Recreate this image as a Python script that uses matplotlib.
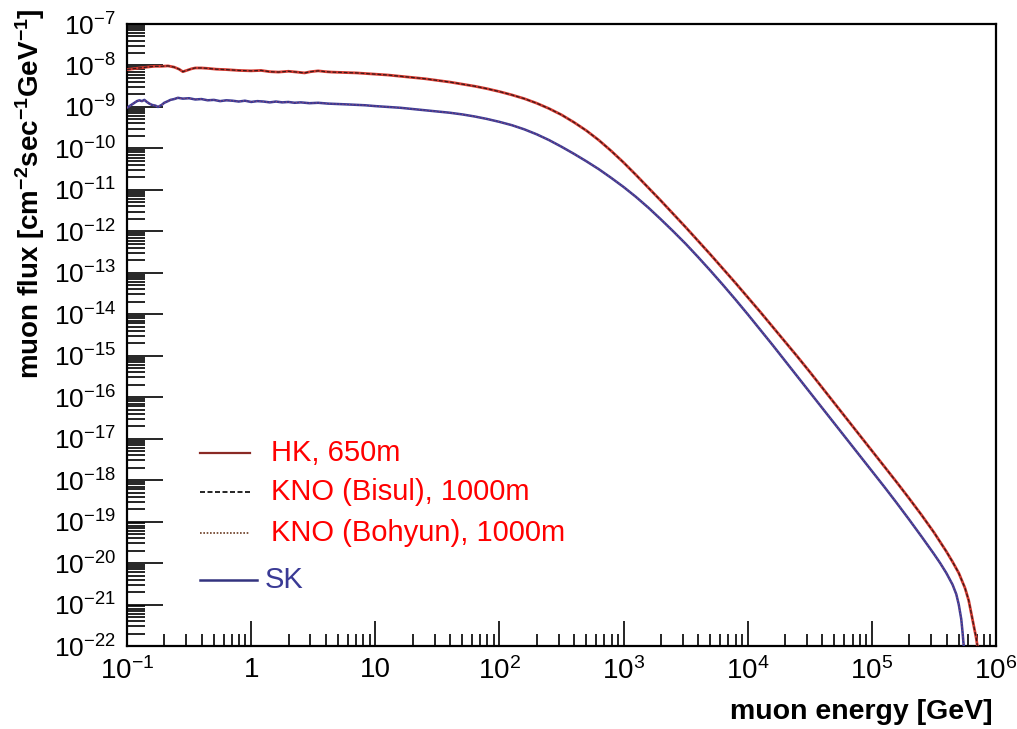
import numpy as np
import matplotlib
matplotlib.use("Agg")
import matplotlib.pyplot as plt
from matplotlib.ticker import FixedLocator, FixedFormatter, LogLocator, NullFormatter

plt.rcParams['font.family'] = ['Liberation Sans', 'DejaVu Sans']
plt.rcParams['mathtext.fontset'] = 'custom'
plt.rcParams['mathtext.rm'] = 'Liberation Sans'
plt.rcParams['mathtext.bf'] = 'Liberation Sans:bold'
plt.rcParams['mathtext.it'] = 'Liberation Sans:italic'

# ---- data (log10 of energy in GeV, log10 of flux) ----
hk_log_e = [-1.0, -0.95, -0.9, -0.84, -0.78, -0.72, -0.67, -0.62, -0.58, -0.55, -0.52,
            -0.48, -0.45, -0.4, -0.35, -0.28, -0.2, -0.1, 0.0, 0.08, 0.15, 0.22, 0.3,
            0.37, 0.43, 0.48, 0.54, 0.6, 0.65, 0.75, 0.85, 0.95,
            1.0, 1.1, 1.2, 1.3, 1.4, 1.5, 1.6, 1.7, 1.8, 1.9, 2.0, 2.1, 2.2, 2.3, 2.4,
            2.5, 2.6, 2.7, 2.8, 2.9, 3.0, 3.1, 3.2, 3.3, 3.4, 3.5, 3.6, 3.7, 3.8, 3.9,
            4.0, 4.1, 4.2, 4.3, 4.4, 4.5, 4.6, 4.7, 4.8, 4.9, 5.0, 5.1, 5.2, 5.3, 5.4,
            5.5, 5.6, 5.65, 5.7, 5.75, 5.78, 5.8, 5.82, 5.84, 5.85]
hk_log_flux = [-8.10, -8.08, -8.06, -8.04, -8.02, -8.02, -8.01, -8.04, -8.09, -8.15, -8.12,
               -8.08, -8.06, -8.06, -8.07, -8.09, -8.10, -8.12, -8.13, -8.12, -8.15, -8.16,
               -8.14, -8.16, -8.18, -8.15, -8.13, -8.15, -8.16, -8.17, -8.18, -8.20,
               -8.21, -8.23, -8.26, -8.29, -8.32, -8.36, -8.40, -8.45, -8.50, -8.56, -8.63,
               -8.71, -8.80, -8.91, -9.04, -9.19, -9.37, -9.57, -9.80, -10.06, -10.34,
               -10.64, -10.95, -11.26, -11.58, -11.90, -12.23, -12.56, -12.90, -13.24,
               -13.59, -13.94, -14.30, -14.66, -15.02, -15.39, -15.77, -16.15, -16.53,
               -16.91, -17.29, -17.67, -18.05, -18.44, -18.84, -19.26, -19.72, -19.97,
               -20.24, -20.6, -20.9, -21.2, -21.5, -21.8, -22.0]

sk_log_e = [-1.0, -0.97, -0.94, -0.92, -0.9, -0.88, -0.86, -0.84, -0.82, -0.8, -0.77,
            -0.75, -0.72, -0.7, -0.67, -0.65, -0.62, -0.59, -0.55, -0.5, -0.45, -0.4,
            -0.35, -0.3, -0.25, -0.2, -0.15, -0.1, -0.05, 0.0, 0.05, 0.1, 0.15, 0.2,
            0.25, 0.3, 0.35, 0.4, 0.47, 0.54, 0.62, 0.7, 0.78, 0.85, 0.92,
            1.0, 1.1, 1.2, 1.3, 1.4, 1.5, 1.6, 1.7, 1.8, 1.9, 2.0, 2.1, 2.2, 2.3, 2.4,
            2.5, 2.6, 2.7, 2.8, 2.9, 3.0, 3.1, 3.2, 3.3, 3.4, 3.5, 3.6, 3.7, 3.8, 3.9,
            4.0, 4.1, 4.2, 4.3, 4.4, 4.5, 4.6, 4.7, 4.8, 4.9, 5.0, 5.1, 5.2, 5.3, 5.4,
            5.5, 5.55, 5.6, 5.65, 5.68, 5.70, 5.72, 5.73, 5.74]
sk_log_flux = [-9.02, -8.96, -8.90, -8.86, -8.84, -8.86, -8.83, -8.88, -8.92, -8.95, -8.97,
               -9.00, -8.95, -8.90, -8.86, -8.83, -8.81, -8.78, -8.80, -8.79, -8.82, -8.81,
               -8.84, -8.83, -8.86, -8.84, -8.85, -8.87, -8.85, -8.88, -8.86, -8.87, -8.89,
               -8.87, -8.89, -8.88, -8.90, -8.89, -8.91, -8.90, -8.92, -8.93, -8.94, -8.95,
               -8.96,
               -8.98, -9.00, -9.02, -9.05, -9.08, -9.11, -9.14, -9.18, -9.23, -9.29, -9.36,
               -9.44, -9.54, -9.66, -9.80, -9.96, -10.13, -10.31, -10.50, -10.71, -10.93,
               -11.17, -11.43, -11.71, -12.00, -12.30, -12.62, -12.95, -13.29, -13.64,
               -14.00, -14.37, -14.74, -15.12, -15.50, -15.88, -16.26, -16.64, -17.02,
               -17.40, -17.78, -18.16, -18.55, -18.95, -19.36, -19.78, -20.00, -20.24,
               -20.52, -20.75, -21.00, -21.35, -21.65, -22.0]

# KNO curves coincide with the visible curves in the picture
kno_bisul_log_e = hk_log_e
kno_bisul_log_flux = hk_log_flux
kno_bohyun_log_e = sk_log_e
kno_bohyun_log_flux = sk_log_flux

labels = ["HK, 650m", "KNO (Bisul), 1000m", "KNO (Bohyun), 1000m", "SK"]

x_ticks = [1e-1, 1, 10, 1e2, 1e3, 1e4, 1e5, 1e6]
x_tick_labels = [r"10$^{-1}$", "1", "10", r"10$^{2}$", r"10$^{3}$", r"10$^{4}$",
                 r"10$^{5}$", r"10$^{6}$"]
y_exps = list(range(-22, -6))

# ---- figure ----
fig = plt.figure(figsize=(10.17, 7.29), dpi=100)
ax = fig.add_axes([127/1017, 1-646/729, (996-127)/1017, (646-24)/729])

def pw(a):
    return 10.0 ** np.asarray(a)

ax.plot(pw(hk_log_e), pw(hk_log_flux), color='#d63a30', lw=2.0, zorder=3)
ax.plot(pw(kno_bisul_log_e), pw(kno_bisul_log_flux), color='#3a1a1a', lw=0.9,
        ls=(0, (3, 1.5)), zorder=4)
ax.plot(pw(sk_log_e), pw(sk_log_flux), color='#3a3a95', lw=1.8, zorder=3)
ax.plot(pw(kno_bohyun_log_e), pw(kno_bohyun_log_flux), color='#9a4a70', lw=0.8,
        ls=(0, (1, 2)), zorder=4)

ax.set_xscale('log')
ax.set_yscale('log')
ax.set_xlim(1e-1, 1e6)
ax.set_ylim(1e-22, 1e-7)

ax.xaxis.set_major_locator(FixedLocator(x_ticks))
ax.xaxis.set_major_formatter(FixedFormatter(x_tick_labels))
ax.xaxis.set_minor_locator(LogLocator(base=10, subs=np.arange(2, 10), numticks=100))
ax.xaxis.set_minor_formatter(NullFormatter())

ax.yaxis.set_major_locator(FixedLocator([10.0 ** e for e in y_exps]))
ax.yaxis.set_major_formatter(FixedFormatter([r"10$^{%d}$" % e for e in y_exps]))
ax.yaxis.set_minor_locator(LogLocator(base=10, subs=np.arange(2, 10), numticks=100))
ax.yaxis.set_minor_formatter(NullFormatter())

ax.tick_params(axis='both', which='both', direction='in', top=False, right=False,
               colors='black', width=1.2)
ax.tick_params(axis='x', which='major', length=18, labelsize=20, pad=8)
ax.tick_params(axis='x', which='minor', length=9)
ax.tick_params(axis='y', which='major', length=26, labelsize=19, pad=8)
ax.tick_params(axis='y', which='minor', length=13)
for lab in ax.get_xticklabels() + ax.get_yticklabels():
    lab.set_fontweight('medium')
for sp in ax.spines.values():
    sp.set_linewidth(1.6)

# legend drawn by hand
leg_y = [0.310, 0.2476, 0.1817, 0.1061]
leg_styles = [dict(color='#8a2a25', lw=1.6, ls='-'),
              dict(color='black', lw=1.2, ls=(0, (3, 1.5))),
              dict(color='#6a3a20', lw=1.2, ls=(0, (1, 1))),
              dict(color='#33337f', lw=1.8, ls='-')]
leg_x1 = [0.1415, 0.1415, 0.1415, 0.1496]
text_x = [0.1657, 0.1657, 0.1657, 0.1588]
text_col = ['#ff0000', '#ff0000', '#ff0000', '#3a3a95']
for yy, st, x1, tx, lab, tc in zip(leg_y, leg_styles, leg_x1, text_x, labels, text_col):
    ax.plot([0.084, x1], [yy, yy], transform=ax.transAxes, **st)
    ax.text(tx, yy, lab, transform=ax.transAxes, color=tc, fontsize=21,
            ha='left', va='center')

fig.text(993/1017, 1-712/729, "muon energy [GeV]", ha='right', va='center',
         fontsize=20.5, fontweight='bold')
fig.text(30/1017, 1-8/729,
         r"muon flux [cm$^{\mathbf{-2}}$sec$^{\mathbf{-1}}$GeV$^{\mathbf{-1}}$]",
         ha='center', va='top', rotation=90, fontsize=20, fontweight='bold')

fig.savefig("out.png", dpi=100, facecolor='white')
